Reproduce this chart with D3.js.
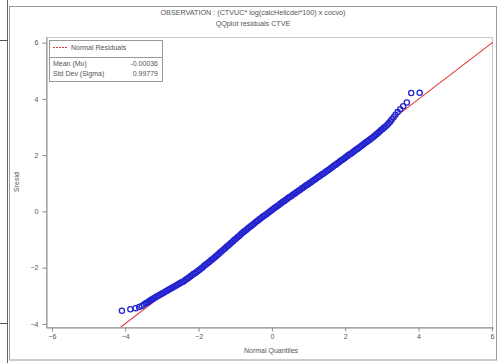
<!DOCTYPE html>
<html><head><meta charset="utf-8">
<script src="https://cdn.jsdelivr.net/npm/d3@7"></script>
<style>body{margin:0;background:#fff}svg{display:block}text{font-family:"Liberation Sans",Arial,sans-serif}</style>
</head><body>
<svg id="c" width="498" height="363"></svg>
<script>
const titleLines = ["OBSERVATION : (CTVUC* log(calcHelicdel*100) x cocvo)", "QQplot residuals CTVE"];
const xLabel = "Normal Quantiles";
const yLabel = "Sresid";
const xTicks = [-6, -4, -2, 0, 2, 4, 6];
const yTicks = [-4, -2, 0, 2, 4, 6];
const legendLabel = "Normal Residuals";
const statNames = ["Mean (Mu)", "Std Dev (Sigma)"];
const statValues = ["-0.00036", "0.99779"];
const mu = -0.00036, sigma = 0.99779;

// normal quantiles (x) and ordered residuals (y)
const qx = [-4.09,-3.86,-3.72,-3.62,-3.55,-3.49,-3.44,-3.40,-3.36,-3.33,
-3.30,-3.26,-3.22,-3.18,-3.14,-3.10,-3.06,-3.02,-2.98,-2.94,-2.90,-2.86,-2.82,-2.78,-2.74,-2.70,
-2.66,-2.62,-2.58,-2.54,-2.50,-2.46,-2.42,-2.38,-2.34,-2.30,-2.26,-2.22,-2.18,-2.14,-2.10,-2.06,-2.02,
-1.98,-1.94,-1.90,-1.86,-1.82,-1.78,-1.74,-1.70,-1.66,-1.62,-1.58,-1.54,-1.50,-1.46,-1.42,-1.38,-1.34,-1.30,-1.26,-1.22,
-1.18,-1.14,-1.10,-1.06,-1.02,-0.98,-0.94,-0.90,-0.86,-0.82,-0.78,-0.74,-0.70,-0.66,-0.62,-0.58,-0.54,-0.50,-0.46,-0.42,
-0.38,-0.34,-0.30,-0.26,-0.22,-0.18,-0.14,-0.10,-0.06,-0.02,0.02,0.06,0.10,0.14,0.18,0.22,0.26,0.30,0.34,0.38,
0.42,0.46,0.50,0.54,0.58,0.62,0.66,0.70,0.74,0.78,0.82,0.86,0.90,0.94,0.98,1.02,1.06,1.10,1.14,1.18,
1.22,1.26,1.30,1.34,1.38,1.42,1.46,1.50,1.54,1.58,1.62,1.66,1.70,1.74,1.78,1.82,1.86,1.90,1.94,1.98,
2.02,2.06,2.10,2.14,2.18,2.22,2.26,2.30,2.34,2.38,2.42,2.46,2.50,2.54,2.58,2.62,2.66,2.70,2.74,2.78,
2.82,2.86,2.90,2.94,2.98,3.02,3.06,3.10,
3.15,3.19,3.23,3.27,3.32,3.37,3.43,3.50,3.58,3.68,3.80,4.03];
const qy = [-3.53,-3.48,-3.44,-3.40,-3.36,-3.31,-3.27,-3.24,-3.21,-3.18,
-3.15,-3.12,-3.09,-3.06,-3.03,-3.00,-2.97,-2.94,-2.91,-2.88,-2.85,-2.82,-2.79,-2.76,-2.73,-2.70,
-2.67,-2.64,-2.61,-2.58,-2.55,-2.52,-2.50,-2.46,-2.42,-2.39,-2.35,-2.31,-2.27,-2.23,-2.20,-2.16,-2.12,
-2.08,-2.04,-2.00,-1.95,-1.91,-1.87,-1.83,-1.79,-1.74,-1.70,-1.66,-1.61,-1.57,-1.52,-1.47,-1.43,-1.38,-1.34,-1.29,-1.24,
-1.20,-1.15,-1.11,-1.06,-1.01,-0.97,-0.92,-0.88,-0.83,-0.78,-0.74,-0.70,-0.66,-0.61,-0.57,-0.53,-0.49,-0.45,-0.40,-0.36,
-0.32,-0.28,-0.24,-0.20,-0.16,-0.13,-0.09,-0.05,-0.01,0.03,0.07,0.11,0.15,0.18,0.22,0.26,0.30,0.34,0.37,0.41,
0.45,0.49,0.52,0.56,0.60,0.63,0.67,0.71,0.74,0.78,0.82,0.85,0.89,0.93,0.96,1.00,1.03,1.07,1.11,1.14,
1.18,1.22,1.25,1.29,1.33,1.36,1.40,1.44,1.47,1.51,1.55,1.59,1.63,1.66,1.70,1.74,1.78,1.82,1.85,1.89,
1.93,1.97,2.01,2.04,2.08,2.12,2.16,2.20,2.23,2.27,2.31,2.35,2.39,2.43,2.47,2.50,2.54,2.58,2.62,2.66,
2.71,2.75,2.80,2.84,2.89,2.93,2.98,3.02,
3.08,3.14,3.20,3.27,3.35,3.44,3.53,3.63,3.74,3.87,4.21,4.22];

const svg = d3.select("#c");
const grey = "#8a8a8a";
const txt = "#555";

// page/table borders
svg.append("line").attr("x1",7.5).attr("x2",7.5).attr("y1",0).attr("y2",363).attr("stroke","#666");
svg.append("line").attr("x1",0).attr("x2",8).attr("y1",40.5).attr("y2",40.5).attr("stroke","#555");
svg.append("line").attr("x1",0).attr("x2",8).attr("y1",323.5).attr("y2",323.5).attr("stroke","#555");
svg.append("rect").attr("x",9.5).attr("y",6.5).attr("width",487).attr("height",353.5)
  .attr("fill","none").attr("stroke","#999");

const L = 46, R = 493, T = 37, B = 327;
const x = d3.scaleLinear().domain([-6.16, 6.03]).range([L, R]);
const y = d3.scaleLinear().domain([-4.11, 6.2]).range([B, T]);

// plot frame
svg.append("rect").attr("x",L+0.5).attr("y",T+0.5).attr("width",R-L-1).attr("height",B-T)
  .attr("fill","none").attr("stroke","#c8c8c8");

// titles
svg.selectAll(".title").data(titleLines).join("text")
  .attr("x",253).attr("y",(d,i)=>15+i*11).attr("text-anchor","middle")
  .attr("font-size",7.2).attr("fill",txt).text(d=>d);

// clip
svg.append("clipPath").attr("id","clip").append("rect")
  .attr("x",L).attr("y",T).attr("width",R-L).attr("height",B-T);

// normal reference line
const xd = x.domain();
svg.append("line").attr("clip-path","url(#clip)")
  .attr("x1",x(xd[0])).attr("y1",y(mu+sigma*xd[0]))
  .attr("x2",x(xd[1])).attr("y2",y(mu+sigma*xd[1]))
  .attr("stroke","#e0393b").attr("stroke-width",1.1);

// points
svg.append("g").selectAll("circle").data(qx).join("circle")
  .attr("cx",d=>x(d)).attr("cy",(d,i)=>y(qy[i])).attr("r",2.6)
  .attr("fill","none").attr("stroke","#2323d0").attr("stroke-width",1.3);

// axes
const xa = svg.append("g").attr("transform",`translate(0,${B+0.5})`)
  .call(d3.axisBottom(x).tickValues(xTicks).tickSize(4).tickPadding(3).tickSizeOuter(0));
const ya = svg.append("g").attr("transform",`translate(${L+0.5},0)`)
  .call(d3.axisLeft(y).tickValues(yTicks).tickSize(4).tickPadding(4).tickSizeOuter(0));
[xa, ya].forEach(g=>{
  g.select(".domain").attr("stroke",grey);
  g.selectAll(".tick line").attr("stroke",grey);
  g.selectAll(".tick text").attr("font-size",7).attr("fill",txt)
   .attr("font-family",'"Liberation Sans",Arial,sans-serif');
});

svg.append("text").attr("x",271).attr("y",353).attr("text-anchor","middle")
  .attr("font-size",7).attr("fill",txt).text(xLabel);
svg.append("text").attr("transform",`translate(19,${(T+B)/2}) rotate(-90)`)
  .attr("text-anchor","middle").attr("font-size",7).attr("fill",txt).text(yLabel);

// legend
const lg = svg.append("g");
lg.append("rect").attr("x",49.5).attr("y",40.5).attr("width",113).attr("height",41)
  .attr("fill","#fff").attr("stroke","#999");
lg.append("line").attr("x1",49.5).attr("x2",162.5).attr("y1",57.5).attr("y2",57.5).attr("stroke","#999");
lg.append("line").attr("x1",53).attr("x2",67).attr("y1",47.5).attr("y2",47.5)
  .attr("stroke","#e0393b").attr("stroke-dasharray","2,1");
lg.append("text").attr("x",71).attr("y",50).attr("font-size",7).attr("fill",txt).text(legendLabel);
lg.selectAll(".sn").data(statNames).join("text").attr("x",53).attr("y",(d,i)=>66+i*10)
  .attr("font-size",7).attr("fill",txt).text(d=>d);
lg.selectAll(".sv").data(statValues).join("text").attr("x",158).attr("y",(d,i)=>66+i*10)
  .attr("text-anchor","end").attr("font-size",7).attr("fill",txt).text(d=>d);
</script>
</body></html>
